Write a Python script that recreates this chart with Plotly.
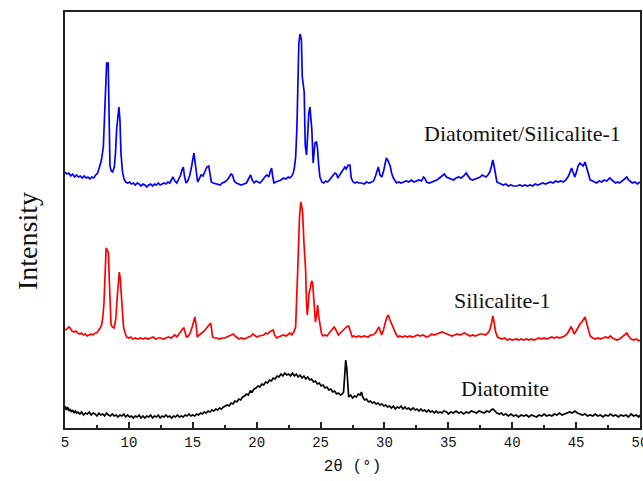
import plotly.graph_objects as go

# ---- data (2theta in degrees, intensity in arbitrary units) ----
blue_x = [5.0,5.15,5.3,5.45,5.6,5.75,5.9,6.05,6.2,6.35,6.5,6.65,6.8,6.95,7.1,7.25,7.4,7.55,7.7,7.85,8.0,8.1,8.2,8.26,8.38,8.45,8.52,8.62,8.73,8.86,8.95,9.05,9.15,9.22,9.3,9.38,9.5,9.62,9.75,9.9,10.05,10.2,10.35,10.5,10.65,10.8,10.95,11.1,11.25,11.4,11.55,11.7,11.85,12.0,12.15,12.3,12.45,12.6,12.75,12.9,13.05,13.2,13.35,13.45,13.6,13.75,13.9,14.05,14.15,14.26,14.35,14.47,14.6,14.75,14.9,15.0,15.09,15.18,15.27,15.38,15.5,15.65,15.8,15.95,16.1,16.25,16.35,16.45,16.6,16.8,17.0,17.15,17.3,17.5,17.7,17.85,18.0,18.1,18.25,18.4,18.6,18.8,19.0,19.2,19.4,19.53,19.65,19.8,19.95,20.1,20.26,20.4,20.55,20.7,20.8,20.95,21.05,21.17,21.25,21.35,21.5,21.7,21.9,22.1,22.3,22.47,22.6,22.75,22.86,22.95,23.05,23.15,23.22,23.3,23.4,23.5,23.57,23.65,23.72,23.8,23.9,24.0,24.08,24.17,24.25,24.32,24.42,24.5,24.56,24.68,24.76,24.84,24.95,25.1,25.25,25.4,25.55,25.7,25.85,26.0,26.13,26.25,26.35,26.5,26.65,26.8,26.9,27.0,27.17,27.3,27.4,27.55,27.7,27.85,28.0,28.2,28.4,28.6,28.8,29.0,29.15,29.3,29.45,29.52,29.65,29.8,29.95,30.05,30.15,30.25,30.35,30.45,30.56,30.7,30.85,30.95,31.1,31.3,31.5,31.7,31.9,32.1,32.3,32.5,32.7,32.9,33.05,33.15,33.3,33.5,33.7,33.9,34.1,34.3,34.5,34.7,34.85,35.0,35.2,35.4,35.6,35.8,36.0,36.2,36.4,36.55,36.7,36.9,37.1,37.3,37.5,37.65,37.8,37.95,38.1,38.25,38.38,38.48,38.58,38.7,38.8,38.95,39.1,39.3,39.5,39.7,39.9,40.1,40.35,40.6,40.8,41.0,41.2,41.4,41.6,41.8,42.0,42.2,42.4,42.6,42.8,43.0,43.2,43.4,43.6,43.8,44.0,44.2,44.4,44.55,44.65,44.75,44.9,45.05,45.15,45.3,45.45,45.55,45.7,45.8,45.95,46.1,46.3,46.45,46.6,46.8,47.0,47.2,47.4,47.55,47.65,47.8,47.95,48.1,48.25,48.4,48.6,48.8,48.97,49.1,49.25,49.4,49.6,49.8,50.0]
blue_y = [256,254,255,252,254,251,253,251,252,250,252,250,251,249,251,250,253,255,261,268,281,311,350,365,365,300,262,257,256,261,275,300,318,321,308,275,256,249,246,245,246,244,245,243,245,244,242,244,243,241,243,244,242,244,243,245,243,244,245,244,246,245,249,251,247,245,249,253,258,261,252,245,247,252,261,268,275,266,256,246,249,253,252,256,261,262,254,246,245,244,243,243,245,246,248,251,254,253,247,245,244,243,244,245,250,253,248,245,247,246,245,247,250,252,253,251,256,260,252,245,246,247,248,250,249,251,250,252,255,260,271,300,330,385,394,388,351,338,336,283,273,295,315,321,312,298,265,275,285,286,280,265,251,246,245,247,246,248,250,253,255,254,250,253,256,259,261,259,263,263,250,246,245,246,245,245,244,246,245,246,247,252,259,261,253,251,258,266,270,268,265,262,255,250,247,245,246,245,246,247,246,248,246,247,248,247,251,250,246,245,246,247,248,250,252,254,251,250,249,248,250,251,250,252,255,252,249,248,249,250,251,253,252,251,253,256,262,268,262,252,246,245,244,243,244,242,243,242,242,243,242,243,242,243,242,244,243,244,245,244,245,246,245,247,246,247,246,248,252,257,260,256,251,257,262,265,263,262,266,262,254,248,247,246,245,247,246,248,247,249,250,248,246,245,246,245,247,249,251,248,246,245,246,244,246]

red_x = [5.0,5.15,5.3,5.4,5.55,5.7,5.85,6.0,6.17,6.3,6.45,6.6,6.75,6.9,7.05,7.2,7.35,7.48,7.6,7.75,7.87,7.97,8.05,8.15,8.22,8.3,8.4,8.46,8.52,8.6,8.7,8.83,8.92,8.99,9.08,9.17,9.25,9.32,9.43,9.5,9.58,9.7,9.83,10.0,10.15,10.3,10.5,10.7,10.9,11.1,11.3,11.5,11.7,11.9,12.1,12.3,12.5,12.7,12.9,13.1,13.3,13.45,13.6,13.75,13.9,14.05,14.2,14.3,14.4,14.5,14.65,14.8,14.95,15.05,15.17,15.27,15.35,15.5,15.65,15.8,15.96,16.1,16.25,16.4,16.48,16.55,16.7,16.9,17.1,17.3,17.5,17.7,17.9,18.05,18.17,18.3,18.45,18.6,18.8,19.0,19.2,19.4,19.55,19.7,19.85,20.0,20.2,20.4,20.55,20.7,20.85,21.0,21.15,21.3,21.4,21.56,21.7,21.9,22.1,22.3,22.45,22.6,22.75,22.9,23.05,23.15,23.25,23.35,23.45,23.55,23.6,23.7,23.78,23.83,23.9,23.96,24.05,24.1,24.2,24.3,24.38,24.45,24.5,24.6,24.68,24.77,24.85,24.92,25.0,25.08,25.2,25.35,25.5,25.65,25.8,25.95,26.05,26.13,26.25,26.4,26.55,26.7,26.85,27.0,27.1,27.2,27.3,27.48,27.6,27.8,28.0,28.2,28.4,28.6,28.73,28.9,29.1,29.3,29.45,29.57,29.7,29.78,29.9,30.0,30.1,30.2,30.3,30.4,30.5,30.6,30.75,30.9,31.07,31.2,31.4,31.6,31.8,32.0,32.2,32.4,32.6,32.8,33.0,33.17,33.3,33.5,33.7,33.9,34.1,34.3,34.5,34.7,34.9,35.1,35.3,35.5,35.7,35.9,36.1,36.25,36.4,36.55,36.7,36.9,37.1,37.3,37.5,37.7,37.9,38.1,38.25,38.38,38.48,38.58,38.7,38.85,39.0,39.2,39.4,39.6,39.8,40.0,40.3,40.5,40.7,40.9,41.1,41.3,41.5,41.7,41.9,42.1,42.3,42.5,42.7,42.9,43.1,43.3,43.5,43.7,43.9,44.1,44.3,44.45,44.6,44.7,44.85,45.0,45.15,45.3,45.45,45.6,45.7,45.8,45.95,46.1,46.3,46.5,46.7,46.9,47.1,47.3,47.5,47.7,47.85,48.0,48.2,48.4,48.6,48.8,48.97,49.1,49.3,49.5,49.7,49.9,50.0]
red_y = [98,99,101,100,97,96,97,95,94,95,93,94,92,93,94,93,95,95,97,100,103,112,125,155,180,178,175,150,118,104,101,100,105,111,130,146,156,150,131,112,101,95,91,90,91,89,90,89,90,89,90,89,90,91,89,90,90,89,90,91,90,92,93,91,94,96,99,100,96,91,92,95,101,106,111,102,91,93,95,96,98,100,102,105,98,91,90,90,89,90,90,91,92,93,94,92,90,89,90,89,90,91,92,94,92,91,92,93,93,95,94,96,97,98,93,90,91,92,93,92,94,95,93,96,101,130,171,210,226,220,215,185,165,158,125,113,125,135,140,147,145,135,128,106,112,123,112,106,99,94,92,93,92,95,97,99,101,100,97,93,95,97,99,100,102,102,98,91,92,91,92,91,92,91,91,93,93,95,98,101,96,93,97,103,107,111,113,109,106,103,98,94,91,92,91,92,91,92,91,92,93,92,93,92,91,92,94,93,94,95,96,95,94,93,92,93,94,93,94,95,94,93,92,93,92,93,94,94,93,95,98,105,112,106,96,91,90,89,90,88,89,88,89,88,89,88,89,88,89,88,89,90,89,90,89,90,91,90,91,90,91,92,94,97,101,99,94,97,101,104,106,109,111,106,99,92,90,89,90,89,90,91,90,92,90,89,88,89,91,93,95,92,89,88,89,87,88]

black_x = [5.0,5.1,5.2,5.3,5.4,5.5,5.6,5.7,5.8,5.9,6.0,6.17,6.3,6.45,6.6,6.75,6.9,7.05,7.2,7.35,7.5,7.65,7.8,7.95,8.1,8.25,8.4,8.55,8.7,8.85,9.0,9.15,9.3,9.45,9.6,9.75,9.9,10.05,10.2,10.35,10.5,10.65,10.8,10.95,11.1,11.25,11.4,11.55,11.7,11.85,12.0,12.15,12.3,12.45,12.6,12.75,12.9,13.05,13.2,13.35,13.5,13.65,13.8,13.95,14.1,14.25,14.4,14.55,14.7,14.85,15.0,15.15,15.3,15.45,15.6,15.75,15.9,16.05,16.2,16.35,16.5,16.65,16.8,16.95,17.1,17.25,17.4,17.55,17.7,17.85,18.0,18.15,18.3,18.45,18.6,18.75,18.9,19.05,19.2,19.35,19.5,19.65,19.8,19.95,20.1,20.25,20.4,20.55,20.7,20.85,21.0,21.15,21.3,21.45,21.6,21.75,21.9,22.05,22.2,22.35,22.5,22.65,22.8,22.95,23.1,23.25,23.4,23.55,23.7,23.85,24.0,24.15,24.3,24.45,24.6,24.75,24.9,25.05,25.2,25.35,25.5,25.65,25.8,25.95,26.1,26.25,26.4,26.55,26.7,26.8,26.9,26.97,27.05,27.12,27.2,27.35,27.5,27.65,27.8,27.95,28.1,28.2,28.3,28.45,28.6,28.75,28.9,29.05,29.2,29.35,29.5,29.65,29.8,29.95,30.1,30.25,30.4,30.55,30.7,30.85,31.0,31.15,31.3,31.45,31.6,31.75,31.9,32.05,32.25,32.4,32.55,32.7,32.85,33.0,33.15,33.3,33.45,33.6,33.75,33.9,34.05,34.2,34.35,34.5,34.65,34.87,35.0,35.2,35.4,35.6,35.8,36.0,36.2,36.4,36.6,36.8,37.0,37.2,37.4,37.6,37.8,38.0,38.2,38.35,38.5,38.65,38.8,39.0,39.15,39.3,39.5,39.7,39.9,40.1,40.3,40.5,40.7,40.9,41.1,41.3,41.5,41.7,41.9,42.1,42.3,42.5,42.7,42.9,43.1,43.3,43.5,43.7,43.9,44.1,44.3,44.5,44.7,44.9,45.1,45.3,45.5,45.7,45.9,46.1,46.3,46.5,46.7,46.9,47.1,47.3,47.5,47.7,47.9,48.1,48.3,48.5,48.7,48.9,49.1,49.3,49.5,49.7,49.9,50.0]
black_y = [22,18,21,17,19,16,18,15,17,15,16,14,16,13,15,14,16,13,15,14,12,15,13,14,12,15,13,12,14,12,13,11,13,12,14,11,13,11,12,10,12,11,13,10,12,10,12,11,13,10,12,11,13,10,12,11,13,11,12,10,12,11,13,11,12,11,13,12,14,12,13,12,14,13,15,14,16,15,17,16,18,17,19,18,20,19,21,22,23,22,25,24,27,26,29,28,31,32,34,33,37,36,39,40,42,41,44,43,46,45,48,47,50,49,52,51,54,52,55,53,54,52,55,52,54,51,53,50,52,49,51,48,49,46,47,44,45,42,43,40,41,38,39,36,37,34,35,33,34,36,52,68,60,40,31,33,30,32,31,34,33,36,31,28,29,26,27,25,26,24,25,23,24,22,23,21,22,20,22,19,21,20,22,19,21,19,20,18,20,18,19,17,19,17,18,16,18,16,17,15,17,15,16,15,17,16,14,16,15,17,15,16,14,16,15,17,16,15,17,16,15,17,16,18,19,17,15,14,15,13,14,12,14,12,13,11,13,12,13,11,13,12,11,13,12,14,12,13,12,14,13,15,13,14,15,16,15,17,15,14,13,14,12,13,12,14,12,13,11,13,12,14,12,13,11,13,12,13,11,14,12,13,11,13]

series_names = ["Diatomitet/Silicalite-1", "Silicalite-1", "Diatomite"]
series_colors = ["#0000FF", "#FF0000", "#000000"]

x_ticks = [5, 10, 15, 20, 25, 30, 35, 40, 45, 50]
x_ticklabels = ["5", "10", "15", "20", "25", "30", "35", "40", "45", "50"]

# label anchor positions (data coords)
label_x = [40.8, 39.2, 39.4]
label_y = [295, 128, 40]

fig = go.Figure()
for xs, ys, name, col in [(blue_x, blue_y, series_names[0], series_colors[0]),
                          (red_x, red_y, series_names[1], series_colors[1]),
                          (black_x, black_y, series_names[2], series_colors[2])]:
    fig.add_trace(go.Scatter(x=xs, y=ys, mode="lines", name=name,
                             line=dict(color=col, width=1.7), showlegend=False))

for name, lx, ly in zip(series_names, label_x, label_y):
    fig.add_annotation(x=lx, y=ly, xref="x", yref="y", text=name, showarrow=False,
                       font=dict(family="Liberation Serif", size=22, color="#111111"))

# y-axis title placed as rotated text to the left of the frame
fig.add_annotation(x=-0.064, y=0.45, xref="paper", yref="paper", text="Intensity",
                   textangle=-90, showarrow=False, xanchor="center", yanchor="middle",
                   font=dict(family="Liberation Serif", size=28, color="#111111"))

fig.update_layout(
    width=643, height=481,
    margin=dict(l=65, r=3, t=12, b=53, autoexpand=False),
    paper_bgcolor="white", plot_bgcolor="white",
    xaxis=dict(range=[5, 50], tickvals=x_ticks, ticktext=x_ticklabels,
               showline=True, linecolor="#222222", linewidth=1.5, mirror=True,
               ticks="inside", ticklen=6, tickcolor="#222222", tickwidth=1.5,
               minor=dict(ticks="inside", ticklen=3, dtick=2.5, tick0=5, tickcolor="#222222"),
               showgrid=False, zeroline=False, ticklabeloverflow="allow", automargin=False,
               tickfont=dict(family="Liberation Mono", size=14, color="#111111"),
               title=dict(text="2θ (°)", standoff=10,
                          font=dict(family="Liberation Mono", size=16, color="#111111"))),
    yaxis=dict(range=[0, 416], showticklabels=False, ticks="", automargin=False,
               showline=True, linecolor="#222222", linewidth=1.5, mirror=True,
               showgrid=False, zeroline=False),
)

fig.write_html("out.html")
